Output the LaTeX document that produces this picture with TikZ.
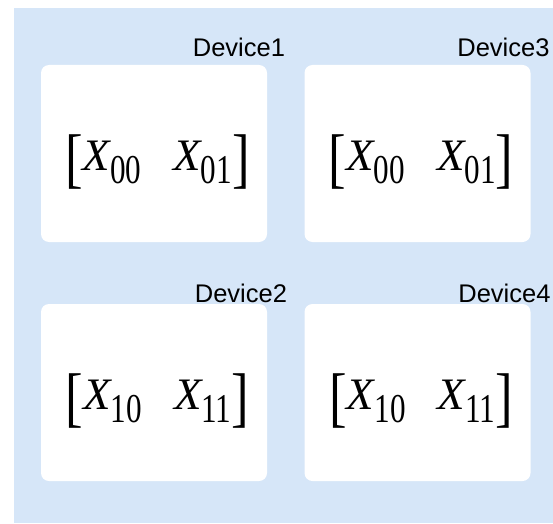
\documentclass[tikz,border=0pt]{standalone}
\usepackage{graphicx}
\usepackage{fontspec}
\setmainfont{Liberation Sans}
\newfontfamily\serfont{Liberation Serif}
\definecolor{panelblue}{HTML}{D6E6F8}
% one row of the block matrix
\newcommand\xsub[1]{\raisebox{-13pt}{\scalebox{0.76}[1]{\fontsize{41}{41}\selectfont #1}}}
\newcommand\mrow[2]{{\serfont
  \raisebox{-10pt}{\scalebox{0.8}[1]{\fontsize{66}{66}\selectfont[}}%
  {\fontsize{45}{45}\selectfont\itshape X}\xsub{#1}%
  \hspace{32pt}%
  {\fontsize{45}{45}\selectfont\itshape X}\xsub{#2}%
  \raisebox{-10pt}{\scalebox{0.8}[1]{\fontsize{66}{66}\selectfont]}}}}
\begin{document}
\begin{tikzpicture}[x=1pt,y=1pt,
  device/.style={fill=white,rounded corners=8pt,minimum width=226pt,minimum height=177pt,inner sep=0pt},
  devlabel/.style={font=\fontsize{25.5}{25.5}\selectfont,anchor=base east,inner sep=0pt},
  entry/.style={anchor=base,inner sep=0pt}]
\useasboundingbox (0,0) rectangle (553,523);
\fill[panelblue] (14,0) rectangle (553,515);
\node[device] (dev1) at (154,369.5) {};
\node[device] (dev3) at (417.5,369.5) {};
\node[device] (dev2) at (154,130.5) {};
\node[device] (dev4) at (417.5,130.5) {};
\node[entry] (m1) at ([xshift=3.5pt,yshift=-16.5pt]dev1.center) {\mrow{00}{01}};
\node[entry] (m3) at ([xshift=3.5pt,yshift=-16.5pt]dev3.center) {\mrow{00}{01}};
\node[entry] (m2) at ([xshift=3.5pt,yshift=-16.5pt]dev2.center) {\mrow{10}{11}};
\node[entry] (m4) at ([xshift=3.5pt,yshift=-16.5pt]dev4.center) {\mrow{10}{11}};
\node[devlabel] (l1) at ([xshift=18pt,yshift=8pt]dev1.north east) {Device1};
\node[devlabel] (l3) at ([xshift=19pt,yshift=8pt]dev3.north east) {Device3};
\node[devlabel] (l2) at ([xshift=20pt,yshift=1pt]dev2.north east) {Device2};
\node[devlabel] (l4) at ([xshift=20pt,yshift=1pt]dev4.north east) {Device4};
\end{tikzpicture}
\end{document}
